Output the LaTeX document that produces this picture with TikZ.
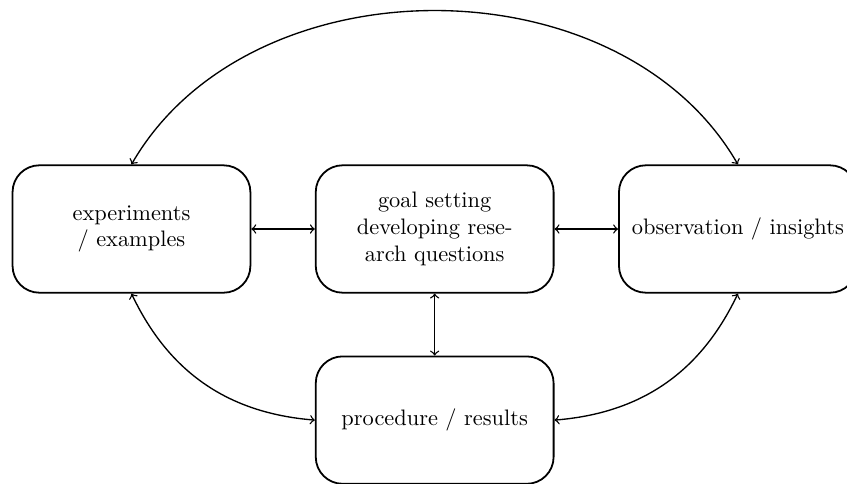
\documentclass[tikz,border=0pt]{standalone}
\tikzset{
  stage/.style={draw, thick, rounded corners=12pt, text width=3.5cm, align=center, minimum height=2cm},
  link/.style={semithick, <->}
}

\begin{document}
\begin{tikzpicture}
\useasboundingbox (-2.064,3.595) rectangle (11.233,-4.003);
\node[stage] (exp) at (0,0) {experiments\\ / examples};
\node[stage] (goal) at (4.76,0) {goal setting\\ developing rese-\\ arch questions};
\node[stage] (obs) at (9.52,0) {observation / insights};
\node[stage] (proc) at (4.76,-3) {procedure / results};
\draw[link] (exp) -- (goal);
\draw[link] (goal) -- (obs);
\draw[link] (goal) -- (proc);
\draw[link] (exp.north) to[bend left=60] (obs.north);
\draw[link] (exp.south) to[bend right=30] (proc.west);
\draw[link] (obs.south) to[bend left=30] (proc.east);
\end{tikzpicture}
\end{document}
